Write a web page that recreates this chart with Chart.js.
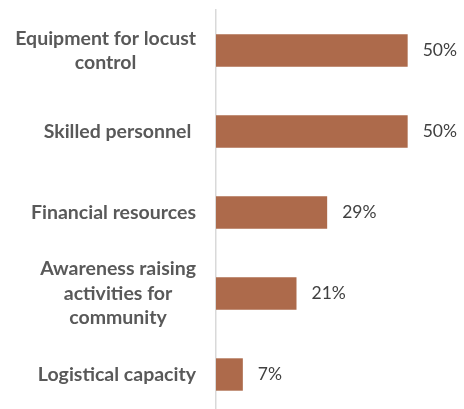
<!DOCTYPE html>
<html>
<head>
<meta charset="utf-8">
<script src="https://cdn.jsdelivr.net/npm/chart.js@4/dist/chart.umd.min.js"></script>
<style>
  html, body { margin: 0; padding: 0; background: #ffffff; overflow: hidden; }
  #wrap { width: 464px; height: 420px; }
</style>
</head>
<body>
<div id="wrap"><canvas id="c" width="464" height="420"></canvas></div>
<script>
// Constraints reported (share of respondents, %)
const categories = [
  ['Equipment for locust', 'control'],
  ['Skilled personnel '],
  ['Financial resources'],
  ['Awareness raising', 'activities for', 'community'],
  ['Logistical capacity']
];
const values = [50, 50, 29, 21, 7];
const valueLabels = ['50%', '50%', '29%', '21%', '7%'];

const LABEL_FONT = 'bold 19.5px Lato, "Liberation Sans", sans-serif';
const VALUE_FONT = '17.5px Lato, "Liberation Sans", sans-serif';

// Category labels: block right-aligned to the axis, lines centred within the block
const categoryLabels = {
  id: 'categoryLabels',
  afterDraw(chart) {
    const { ctx } = chart;
    const y = chart.scales.y;
    const right = chart.chartArea.left - 20;
    const lineH = 24.5;
    ctx.save();
    ctx.font = LABEL_FONT;
    ctx.fillStyle = '#595959';
    ctx.textAlign = 'center';
    ctx.textBaseline = 'middle';
    categories.forEach((lines, i) => {
      const w = Math.max(...lines.map(l => ctx.measureText(l).width));
      const cx = right - w / 2;
      const cy = y.getPixelForValue(i);
      const top = cy - (lines.length - 1) * lineH / 2;
      lines.forEach((l, k) => ctx.fillText(l, cx, top + k * lineH));
    });
    ctx.restore();
  }
};

// Value labels just past the end of each bar
const valueTags = {
  id: 'valueTags',
  afterDatasetsDraw(chart) {
    const { ctx } = chart;
    const meta = chart.getDatasetMeta(0);
    ctx.save();
    ctx.font = VALUE_FONT;
    ctx.fillStyle = '#404040';
    ctx.textAlign = 'left';
    ctx.textBaseline = 'middle';
    meta.data.forEach((bar, i) => {
      ctx.fillText(valueLabels[i], bar.x + 15, bar.y);
    });
    ctx.restore();
  }
};

new Chart(document.getElementById('c'), {
  type: 'bar',
  data: {
    labels: categories.map(c => c.join(' ')),
    datasets: [{
      data: values,
      backgroundColor: '#AD6A4B',
      borderWidth: 0,
      barPercentage: 0.4,
      categoryPercentage: 1.0
    }]
  },
  options: {
    indexAxis: 'y',
    responsive: false,
    animation: false,
    layout: { padding: { left: 216, right: 18, top: 10, bottom: 5 } },
    plugins: { legend: { display: false }, tooltip: { enabled: false } },
    scales: {
      x: {
        display: false,
        min: 0,
        max: 60
      },
      y: {
        display: true,
        offset: true,
        ticks: { display: false },
        grid: { display: false, drawTicks: false },
        border: { display: true, color: '#D9D9D9', width: 1.5 }
      }
    }
  },
  plugins: [categoryLabels, valueTags]
});
</script>
</body>
</html>
